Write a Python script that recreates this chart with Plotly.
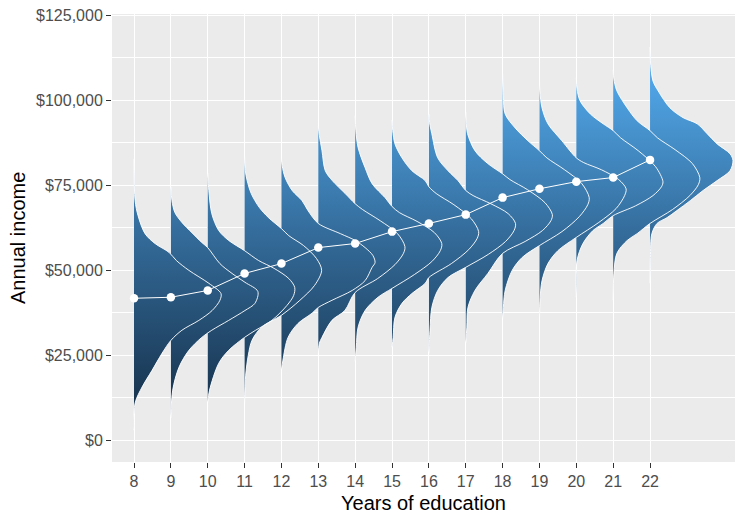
import plotly.graph_objects as go

# Years of schooling shown on the x axis
years = [8, 9, 10, 11, 12, 13, 14, 15, 16, 17, 18, 19, 20, 21, 22]

# Income distribution for each schooling level:
# inc_XX = income (thousands of dollars), wid_XX = ridge width in x-axis units
inc_08 = [2.9, 10.9, 15.6, 20.5, 25.5, 29.3, 32.3, 35.2, 38.1, 41.1, 43.1, 46.1, 49.9, 52.8, 55.2, 57.8, 60.7, 66.0, 70.4, 82.7]
wid_08 = [0, 0.03, 0.22, 0.49, 0.76, 1.0, 1.3, 1.76, 2.12, 2.33, 2.36, 2.03, 1.49, 1.15, 0.95, 0.57, 0.3, 0.11, 0.03, 0]

inc_09 = [6.5, 14.7, 21.4, 26.4, 30.2, 32.3, 35.2, 38.1, 40.2, 43.7, 46.4, 49.0, 51.9, 56.6, 58.1, 61.0, 64.0, 66.9, 70.4, 74.5]
wid_09 = [0, 0.05, 0.22, 0.49, 0.84, 1.11, 1.57, 2.01, 2.28, 2.36, 2.01, 1.66, 1.33, 1.0, 0.84, 0.57, 0.3, 0.11, 0.03, 0]

inc_10 = [11.1, 14.7, 22.6, 26.4, 30.2, 32.3, 35.2, 39.6, 42.5, 44.9, 47.5, 50.5, 52.8, 55.7, 58.7, 61.6, 66.6, 73.4, 78.6]
wid_10 = [0, 0.05, 0.3, 0.57, 1.0, 1.3, 1.74, 2.15, 2.33, 2.36, 2.2, 1.8, 1.38, 1.0, 0.57, 0.3, 0.11, 0.03, 0]

inc_11 = [10.6, 19.1, 24.9, 29.3, 33.2, 36.7, 41.1, 45.5, 49.9, 53.4, 57.2, 60.1, 62.2, 65.4, 68.4, 72.5, 76.3, 79.2, 83.6]
wid_11 = [0, 0.03, 0.1, 0.2, 0.46, 1.0, 1.5, 1.9, 2.09, 1.95, 1.6, 1.2, 1.0, 0.65, 0.4, 0.18, 0.07, 0.02, 0]

inc_12 = [20.5, 23.5, 30.2, 34.3, 37.3, 39.0, 41.1, 44.0, 46.9, 50.8, 52.2, 54.3, 56.6, 58.7, 60.7, 63.7, 67.5, 70.4, 73.4, 77.2, 80.7, 83.0]
wid_12 = [0, 0.04, 0.18, 0.45, 0.83, 1.0, 1.37, 1.92, 2.27, 2.46, 2.54, 2.48, 2.27, 2.0, 1.6, 1.0, 0.72, 0.56, 0.29, 0.1, 0.02, 0]

inc_13 = [25.2, 28.5, 30.2, 35.2, 38.1, 43.4, 47.5, 51.6, 54.9, 56.9, 60.7, 64.5, 67.8, 69.5, 72.5, 76.3, 79.2, 85.1, 89.5, 92.4]
wid_13 = [0, 0.03, 0.1, 0.37, 0.72, 1.0, 1.61, 2.08, 2.31, 2.35, 2.15, 1.68, 1.2, 1.0, 0.73, 0.38, 0.19, 0.1, 0.03, 0]

inc_14 = [23.2, 27.3, 33.2, 38.1, 42.0, 44.6, 48.7, 52.5, 55.7, 57.8, 61.0, 64.3, 66.9, 68.7, 71.3, 75.4, 80.1, 86.0, 91.0, 95.4]
wid_14 = [0, 0.03, 0.08, 0.27, 0.62, 1.0, 1.61, 2.08, 2.31, 2.35, 2.15, 1.68, 1.2, 1.0, 0.81, 0.46, 0.27, 0.08, 0.02, 0]

inc_15 = [27.3, 30.2, 36.1, 40.2, 43.1, 46.1, 47.8, 51.9, 56.0, 59.3, 61.3, 65.1, 69.2, 72.5, 74.5, 76.3, 79.2, 83.0, 87.1, 91.0, 94.2]
wid_15 = [0, 0.03, 0.08, 0.27, 0.54, 0.9, 1.0, 1.61, 2.08, 2.31, 2.35, 2.15, 1.68, 1.2, 1.0, 0.9, 0.54, 0.27, 0.08, 0.02, 0]

inc_16 = [25.5, 32.3, 39.0, 44.0, 47.8, 50.8, 54.6, 58.4, 61.6, 63.7, 66.6, 69.5, 71.9, 73.4, 76.3, 79.2, 83.0, 90.1, 93.3, 95.9]
wid_16 = [0, 0.03, 0.08, 0.24, 0.52, 1.0, 1.61, 2.08, 2.31, 2.35, 2.15, 1.68, 1.2, 1.0, 0.79, 0.52, 0.24, 0.08, 0.02, 0]

inc_17 = [28.5, 33.2, 39.0, 44.0, 49.0, 54.9, 58.4, 61.6, 64.5, 66.3, 69.8, 73.6, 76.6, 78.3, 81.3, 85.1, 90.1, 93.9, 96.5]
wid_17 = [0, 0.03, 0.06, 0.25, 0.6, 1.0, 1.61, 2.08, 2.31, 2.35, 2.15, 1.68, 1.2, 1.0, 0.6, 0.25, 0.05, 0.01, 0]

inc_18 = [35.5, 39.0, 44.0, 49.9, 53.7, 57.2, 61.3, 65.7, 69.2, 71.3, 75.4, 79.5, 83.0, 85.1, 88.0, 91.8, 95.9, 101.2, 107.7]
wid_18 = [0, 0.02, 0.07, 0.26, 0.53, 1.0, 1.61, 2.08, 2.31, 2.35, 2.15, 1.68, 1.2, 1.0, 0.69, 0.34, 0.07, 0.02, 0]

inc_19 = [34.9, 42.0, 46.9, 51.9, 55.7, 59.6, 64.0, 68.1, 71.9, 73.9, 76.6, 79.5, 81.6, 83.0, 88.0, 93.0, 97.7, 102.7, 106.2]
wid_19 = [0, 0.02, 0.07, 0.23, 0.5, 1.0, 1.61, 2.08, 2.31, 2.35, 2.15, 1.68, 1.2, 1.0, 0.61, 0.23, 0.07, 0.01, 0]

inc_20 = [42.0, 52.8, 57.8, 61.6, 63.7, 66.0, 68.9, 71.9, 74.5, 76.0, 80.4, 85.1, 88.9, 91.0, 93.0, 95.9, 99.8, 103.3, 106.5]
wid_20 = [0, 0.02, 0.18, 0.45, 0.73, 1.0, 1.61, 2.08, 2.31, 2.35, 2.15, 1.68, 1.2, 1.0, 0.73, 0.38, 0.1, 0.02, 0]

inc_21 = [41.1, 49.0, 54.9, 58.7, 60.7, 63.7, 67.8, 71.9, 75.1, 77.2, 81.3, 85.4, 88.9, 91.0, 93.9, 97.7, 102.7, 106.2, 108.9]
wid_21 = [0, 0.02, 0.1, 0.38, 0.65, 1.0, 1.61, 2.08, 2.31, 2.35, 2.15, 1.68, 1.2, 1.0, 0.65, 0.38, 0.1, 0.02, 0]

inc_22 = [46.1, 53.7, 60.7, 63.7, 65.4, 67.5, 70.4, 73.4, 76.3, 79.2, 82.2, 84.2, 87.1, 90.1, 93.0, 94.8, 97.7, 102.7, 105.6, 111.5, 115.6]
wid_22 = [0, 0.01, 0.05, 0.19, 0.46, 0.73, 1.09, 1.44, 1.82, 2.17, 2.25, 2.17, 1.82, 1.55, 1.28, 0.9, 0.54, 0.22, 0.08, 0.01, 0]

# Average annual income for each schooling level (thousands of dollars)
mean_income_k = [41.7, 42.0, 44.0, 49.0, 51.9, 56.6, 57.8, 61.3, 63.7, 66.3, 71.3, 73.9, 76.0, 77.2, 82.4]

# Axis ticks
y_tick_values = [0, 25000, 50000, 75000, 100000, 125000]
y_tick_labels = ["$0", "$25,000", "$50,000", "$75,000", "$100,000", "$125,000"]
x_tick_labels = [str(y) for y in years]

ridges = [
    (8, inc_08, wid_08), (9, inc_09, wid_09), (10, inc_10, wid_10),
    (11, inc_11, wid_11), (12, inc_12, wid_12), (13, inc_13, wid_13),
    (14, inc_14, wid_14), (15, inc_15, wid_15), (16, inc_16, wid_16),
    (17, inc_17, wid_17), (18, inc_18, wid_18), (19, inc_19, wid_19),
    (20, inc_20, wid_20), (21, inc_21, wid_21), (22, inc_22, wid_22),
]

low_income = min(min(r[1]) for r in ridges) * 1000
high_income = max(max(r[1]) for r in ridges) * 1000
gradient = dict(
    type="vertical",
    colorscale=[[0.0, "#132B43"], [0.5, "#336A98"], [1.0, "#56B1F7"]],
    start=low_income,
    stop=high_income,
)

fig = go.Figure()

# Filled half-violins, shaded by income level
for yr, inc, wid in ridges:
    fig.add_trace(go.Scatter(
        x=[yr + w for w in wid],
        y=[v * 1000 for v in inc],
        mode="lines",
        fill="toself",
        fillgradient=gradient,
        line=dict(width=0, shape="spline", smoothing=0.9),
        hoverinfo="skip",
        showlegend=False,
    ))

# White outlines on top of all fills
for yr, inc, wid in ridges:
    fig.add_trace(go.Scatter(
        x=[yr + w for w in wid],
        y=[v * 1000 for v in inc],
        mode="lines",
        line=dict(color="rgba(255,255,255,0.92)", width=1, shape="spline", smoothing=0.9),
        hoverinfo="skip",
        showlegend=False,
    ))

# Average income by schooling
fig.add_trace(go.Scatter(
    x=years,
    y=[v * 1000 for v in mean_income_k],
    mode="lines+markers",
    line=dict(color="white", width=1),
    marker=dict(color="white", size=8.5),
    showlegend=False,
))

tick_font = dict(family="Liberation Sans, Arial, sans-serif", size=16, color="#4D4D4D")
title_font = dict(family="Liberation Sans, Arial, sans-serif", size=20, color="black")

fig.update_layout(
    width=735,
    height=513,
    margin=dict(l=112, r=0, t=14, b=51, pad=0),
    paper_bgcolor="white",
    plot_bgcolor="#EBEBEB",
    showlegend=False,
    xaxis=dict(
        range=[7.403, 24.305],
        tickmode="array",
        tickvals=years,
        ticktext=x_tick_labels,
        showgrid=True,
        gridcolor="white",
        gridwidth=1.4,
        zeroline=False,
        showline=False,
        ticks="outside",
        ticklen=5,
        tickwidth=1.3,
        tickcolor="#333333",
        tickfont=tick_font,
    ),
    yaxis=dict(
        range=[-6450, 125300],
        tickmode="array",
        tickvals=y_tick_values,
        ticktext=y_tick_labels,
        showgrid=True,
        gridcolor="white",
        gridwidth=1.4,
        minor=dict(tick0=0, dtick=12500, showgrid=True, gridcolor="white", gridwidth=0.7),
        zeroline=False,
        showline=False,
        ticks="outside",
        ticklen=5,
        tickwidth=1.3,
        tickcolor="#333333",
        tickfont=tick_font,
    ),
    annotations=[
        dict(text="Years of education", xref="paper", yref="paper",
             x=0.5, y=-0.0915, xanchor="center", yanchor="middle",
             showarrow=False, font=title_font),
        dict(text="Annual income", xref="paper", yref="paper",
             x=-0.1509, y=0.5, xanchor="center", yanchor="middle",
             textangle=-90, showarrow=False, font=title_font),
    ],
)

fig.write_html("out.html")
